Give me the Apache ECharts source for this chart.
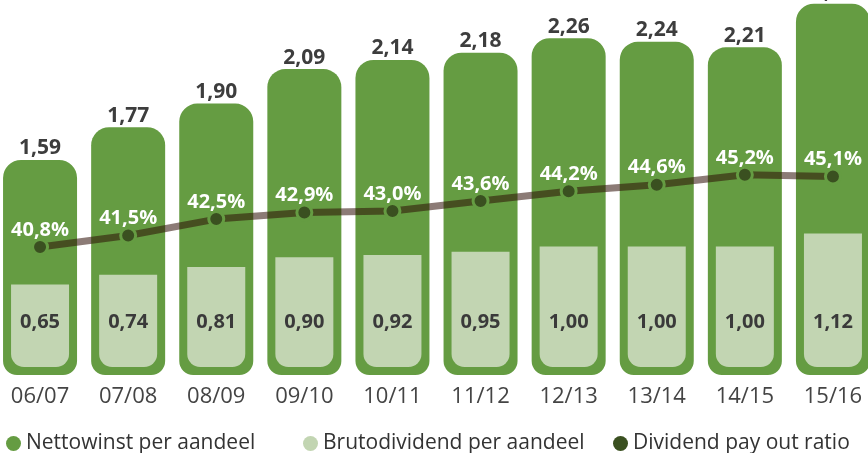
<!DOCTYPE html>
<html>
<head>
<meta charset="utf-8">
<script src="https://cdn.jsdelivr.net/npm/echarts@6/dist/echarts.min.js"></script>
<style>
  html, body { margin: 0; padding: 0; background: #fff; }
  #chart { width: 868px; height: 453px; }
</style>
</head>
<body>
<div id="chart"></div>
<script>
// data
const years = ['06/07', '07/08', '08/09', '09/10', '10/11', '11/12', '12/13', '13/14', '14/15', '15/16']
const nettowinst = [1.59, 1.77, 1.90, 2.09, 2.14, 2.18, 2.26, 2.24, 2.21, 2.45]
const brutodividend = [0.65, 0.74, 0.81, 0.90, 0.92, 0.95, 1.00, 1.00, 1.00, 1.12]
const payoutRatio = [40.8, 41.5, 42.5, 42.9, 43.0, 43.6, 44.2, 44.6, 45.2, 45.1]

const GREEN = '#659c42'
const LIGHT = '#c2d5b2'
const DARK = '#3a5020'
const FONT = '"Open Sans", sans-serif'

// 1,59 style numbers
const nl = (v, d) => v.toFixed(d).replace('.', ',')

const chart = echarts.init(document.getElementById('chart'))

const legendText = { fontFamily: FONT, fontSize: 21, color: '#333' }

const option = {
  animation: false,
  grid: { left: -4, right: -9, top: 0, bottom: 78, containLabel: false, outerBoundsMode: 'none' },
  legend: [
    { data: ['Nettowinst per aandeel'], left: 1, top: 428, icon: 'circle', itemWidth: 15, itemHeight: 15, textStyle: legendText },
    { data: ['Brutodividend per aandeel'], left: 298, top: 428, icon: 'circle', itemWidth: 15, itemHeight: 15, textStyle: legendText },
    {
      data: ['Dividend pay out ratio'], left: 608, top: 428, icon: 'circle', itemWidth: 15, itemHeight: 15,
      itemStyle: { borderWidth: 0 }, textStyle: legendText
    }
  ],
  xAxis: [
    {
      type: 'category',
      data: years,
      axisLine: { show: false },
      axisTick: { show: false },
      axisLabel: { margin: 11, fontFamily: FONT, fontSize: 22, color: '#444' }
    },
    {
      type: 'category',
      data: years,
      show: false
    }
  ],
  yAxis: [
    // nettowinst bars
    { type: 'value', min: 0.407, max: 2.47, startValue: 0.407, show: false, splitLine: { show: false } },
    // brutodividend bars
    { type: 'value', min: -0.184, max: 3.269, startValue: -0.11, show: false, splitLine: { show: false } },
    // pay out ratio
    { type: 'value', min: 32.995, max: 55.86, show: false, splitLine: { show: false } }
  ],
  series: [
    {
      name: 'Nettowinst per aandeel',
      type: 'bar',
      xAxisIndex: 0,
      yAxisIndex: 0,
      barWidth: 74,
      clip: false,
      data: nettowinst,
      itemStyle: { color: GREEN, borderRadius: [18, 18, 14, 14] },
      label: {
        show: true,
        position: 'top',
        distance: 1,
        formatter: p => nl(p.value, 2),
        fontFamily: FONT,
        fontWeight: 'bold',
        fontSize: 21,
        color: '#3d3d3d'
      }
    },
    {
      name: 'Brutodividend per aandeel',
      type: 'bar',
      xAxisIndex: 1,
      yAxisIndex: 1,
      barWidth: 58,
      clip: false,
      data: brutodividend,
      itemStyle: { color: LIGHT, borderRadius: [0, 0, 13, 13] },
      label: {
        show: true,
        position: 'insideBottom',
        distance: 35,
        formatter: p => nl(p.value, 2),
        fontFamily: FONT,
        fontWeight: 'bold',
        fontSize: 20,
        color: '#3a3a3a'
      }
    },
    {
      name: 'Dividend pay out ratio',
      type: 'line',
      xAxisIndex: 0,
      yAxisIndex: 2,
      data: payoutRatio,
      symbol: 'circle',
      symbolSize: 15,
      lineStyle: { width: 7, color: 'rgba(45,15,5,0.55)' },
      itemStyle: { color: DARK, borderColor: GREEN, borderWidth: 3 },
      label: {
        show: true,
        position: 'top',
        distance: -2,
        formatter: p => nl(p.value, 1) + '%',
        fontFamily: FONT,
        fontWeight: 'bold',
        fontSize: 20,
        color: '#fff'
      },
      z: 5
    }
  ]
}

chart.setOption(option)
</script>
</body>
</html>
